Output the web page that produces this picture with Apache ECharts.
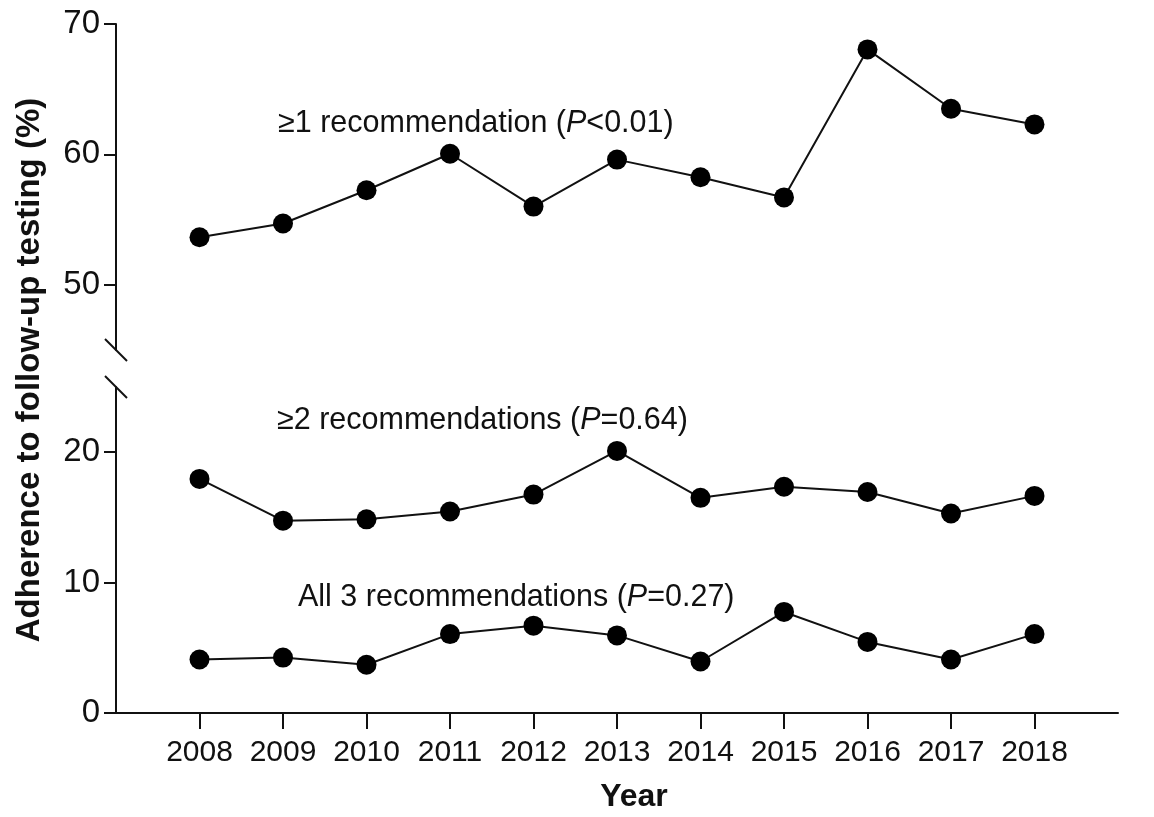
<!DOCTYPE html>
<html>
<head>
<meta charset="utf-8">
<script src="https://cdn.jsdelivr.net/npm/echarts@6/dist/echarts.min.js"></script>
<style>
  html, body { margin: 0; padding: 0; background: #fff; }
  #chart { width: 1154px; height: 817px; }
</style>
</head>
<body>
<div id="chart"></div>
<script>
// Survey years
const years = [2008, 2009, 2010, 2011, 2012, 2013, 2014, 2015, 2016, 2017, 2018];

// Adherence to follow-up testing (%) by number of recommendations followed
const atLeastOne = [53.65, 54.7, 57.25, 60.05, 56.0, 59.6, 58.25, 56.7, 68.05, 63.5, 62.3];
const atLeastTwo = [17.95, 14.75, 14.85, 15.45, 16.75, 20.1, 16.5, 17.35, 16.95, 15.3, 16.65];
const allThree   = [4.1, 4.25, 3.7, 6.05, 6.7, 5.95, 3.95, 7.75, 5.45, 4.1, 6.05];

// Axis tick labels (the value axis is broken between 25 and 45)
const upperTicks = [50, 60, 70];
const lowerTicks = [0, 10, 20];
const upperRange = [45, 70];
const lowerRange = [0, 25];

// Series annotations
const seriesLabels = [
  ['≥1 recommendation (', '<0.01)'],
  ['≥2 recommendations (', '=0.64)'],
  ['All 3 recommendations (', '=0.27)']
];

const INK = '#111';
const FONT = '"Liberation Sans", Arial, Helvetica, sans-serif';

const pairs = vals => years.map((y, i) => [y, vals[i]]);

const chart = echarts.init(document.getElementById('chart'), null, { renderer: 'canvas' });

const axisLineStyle = { color: INK, width: 2 };

function yAxisFor(gridIndex, range, ticks) {
  return {
    type: 'value',
    gridIndex,
    min: range[0],
    max: range[1],
    splitLine: { show: false },
    axisLine: { show: true, lineStyle: axisLineStyle },
    axisTick: { show: true, length: 12, lineStyle: axisLineStyle, customValues: ticks },
    axisLabel: {
      customValues: ticks,
      color: INK,
      fontFamily: FONT,
      fontSize: 33,
      margin: 16,
      formatter: v => String(v)
    }
  };
}

function xAxisFor(gridIndex, visible) {
  return {
    type: 'value',
    gridIndex,
    min: 2007,
    max: 2019,
    show: visible,
    splitLine: { show: false },
    axisLine: { show: visible, onZero: false, lineStyle: axisLineStyle },
    axisTick: { show: visible, length: 16, lineStyle: axisLineStyle, customValues: years },
    axisLabel: {
      show: visible,
      customValues: years,
      color: INK,
      fontFamily: FONT,
      fontSize: 30,
      margin: 25,
      formatter: v => String(v)
    }
  };
}

function lineSeries(data, axisIndex) {
  return {
    type: 'line',
    xAxisIndex: axisIndex,
    yAxisIndex: axisIndex,
    data: pairs(data),
    symbol: 'circle',
    symbolSize: 20,
    showSymbol: true,
    itemStyle: { color: '#000' },
    lineStyle: { color: INK, width: 2 },
    emphasis: { disabled: true },
    animation: false,
    z: 3
  };
}

function annotation(parts, x, y) {
  return {
    type: 'text',
    x, y,
    style: {
      text: parts[0] + '{i|P}' + parts[1],
      font: '30.5px ' + FONT,
      fill: INK,
      textVerticalAlign: 'middle',
      rich: {
        i: { fontStyle: 'italic', fontSize: 30.5, fontFamily: FONT, fill: INK, color: INK }
      }
    }
  };
}

chart.setOption({
  backgroundColor: '#fff',
  animation: false,
  grid: [
    { left: 116, right: 36, top: 24, height: 326, outerBoundsMode: 'none', containLabel: false },
    { left: 116, right: 36, top: 387, height: 326, outerBoundsMode: 'none', containLabel: false }
  ],
  xAxis: [xAxisFor(0, false), xAxisFor(1, true)],
  yAxis: [yAxisFor(0, upperRange, upperTicks), yAxisFor(1, lowerRange, lowerTicks)],
  series: [
    lineSeries(atLeastOne, 0),
    lineSeries(atLeastTwo, 1),
    lineSeries(allThree, 1)
  ]
});

// Break marks where each half of the value axis ends, plus titles and annotations
const upperEnd = chart.convertToPixel({ gridIndex: 0 }, [2007, upperRange[0]]);
const lowerEnd = chart.convertToPixel({ gridIndex: 1 }, [2007, lowerRange[1]]);
const slash = (p) => ({
  type: 'line',
  shape: { x1: p[0] - 11, y1: p[1] - 11, x2: p[0] + 11, y2: p[1] + 11 },
  style: { stroke: INK, lineWidth: 2 },
  z: 10
});

chart.setOption({
  graphic: [
    slash(upperEnd),
    slash(lowerEnd),
    {
      type: 'text',
      x: 30, y: 370,
      rotation: Math.PI / 2,
      style: {
        text: 'Adherence to follow-up testing (%)',
        font: 'bold 33px ' + FONT,
        fill: INK,
        textAlign: 'center',
        textVerticalAlign: 'middle'
      }
    },
    {
      type: 'text',
      x: 634, y: 797,
      style: {
        text: 'Year',
        font: 'bold 32px ' + FONT,
        fill: INK,
        textAlign: 'center',
        textVerticalAlign: 'middle'
      }
    },
    annotation(seriesLabels[0], 278, 124),
    annotation(seriesLabels[1], 277, 421),
    annotation(seriesLabels[2], 298, 598)
  ]
});
</script>
</body>
</html>
